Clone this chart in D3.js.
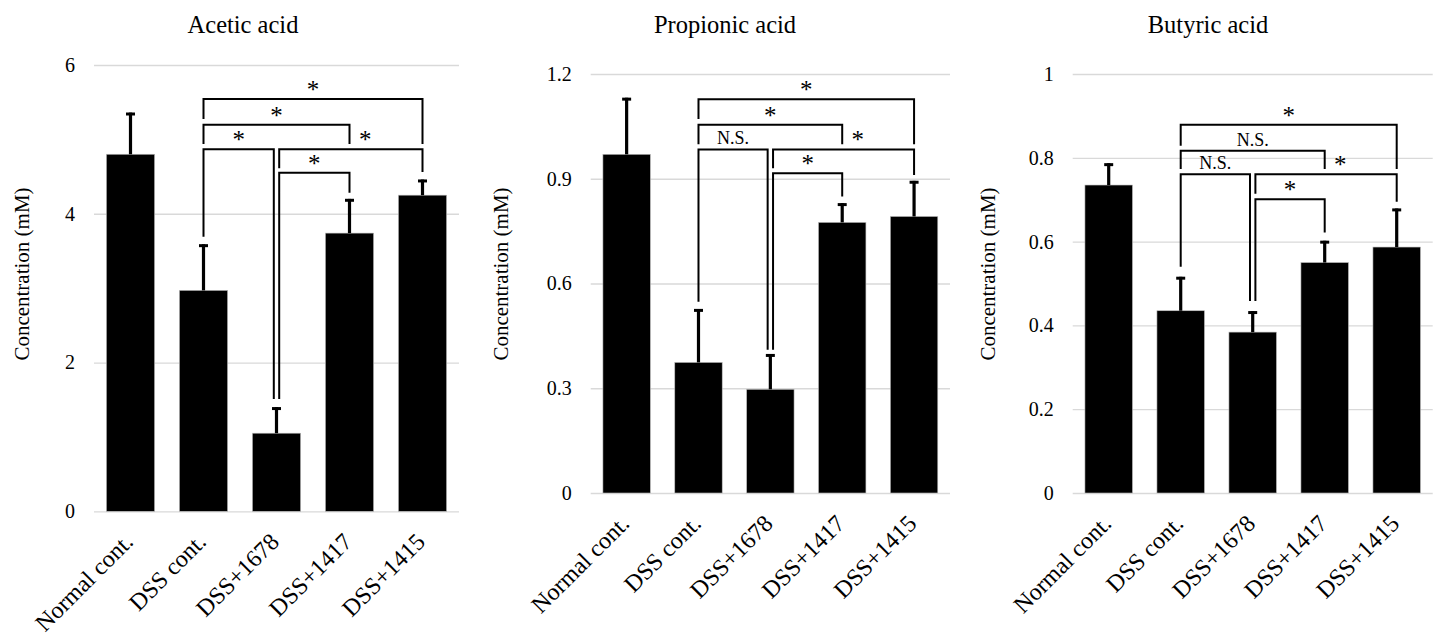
<!DOCTYPE html>
<html>
<head>
<meta charset="utf-8">
<script src="https://cdn.jsdelivr.net/npm/d3@7"></script>
<style>
  body { margin: 0; background: #fff; }
</style>
</head>
<body>
<div id="chart"></div>
<script>
const categories = ['Normal cont.', 'DSS cont.', 'DSS+1678', 'DSS+1417', 'DSS+1415']

const aceticMean = [4.80, 2.97, 1.05, 3.74, 4.25]
const aceticSd = [0.56, 0.62, 0.35, 0.46, 0.21]
const aceticTicks = [0, 2, 4, 6]

const propionicMean = [0.970, 0.374, 0.297, 0.775, 0.792]
const propionicSd = [0.162, 0.153, 0.101, 0.055, 0.102]
const propionicTicks = [0, 0.3, 0.6, 0.9, 1.2]

const butyricMean = [0.735, 0.435, 0.384, 0.550, 0.587]
const butyricSd = [0.052, 0.081, 0.050, 0.052, 0.092]
const butyricTicks = [0, 0.2, 0.4, 0.6, 0.8, 1]

// [from, to, bar height, left leg end, right leg end, label, label position]
const aceticBrackets = [
  [1, 4, 5.544, 5.275, 4.939, '*', 0.5],
  [1, 3, 5.198, 4.939, 4.939, '*', 0.5],
  [1, 2, 4.867, 3.692, 1.51, '*', 0.5],
  [2, 4, 4.867, 4.611, 4.562, '*', 0.6],
  [2, 3, 4.552, 1.51, 4.283, '*', 0.5],
]
const propionicBrackets = [
  [1, 4, 1.128, 1.071, 0.999, '*', 0.5],
  [1, 3, 1.055, 0.999, 0.999, '*', 0.5],
  [1, 2, 0.984, 0.548, 0.41, 'N.S.', 0.5],
  [2, 4, 0.984, 0.93, 0.911, '*', 0.6],
  [2, 3, 0.916, 0.41, 0.849, '*', 0.5],
]
const butyricBrackets = [
  [1, 4, 0.879, 0.829, 0.773, '*', 0.5],
  [1, 3, 0.817, 0.773, 0.773, 'N.S.', 0.5],
  [1, 2, 0.761, 0.540, 0.458, 'N.S.', 0.5],
  [2, 4, 0.761, 0.714, 0.695, '*', 0.6],
  [2, 3, 0.701, 0.458, 0.622, '*', 0.5],
]

const panels = [
  { title: 'Acetic acid', mean: aceticMean, sd: aceticSd, ticks: aceticTicks, brackets: aceticBrackets,
    x0: 94, x1: 459, y0: 511.3, y1: 65, titleX: 243, labelX: 22 },
  { title: 'Propionic acid', mean: propionicMean, sd: propionicSd, ticks: propionicTicks, brackets: propionicBrackets,
    x0: 590.7, x1: 950, y0: 493, y1: 74, titleX: 725, labelX: 501 },
  { title: 'Butyric acid', mean: butyricMean, sd: butyricSd, ticks: butyricTicks, brackets: butyricBrackets,
    x0: 1072.7, x1: 1432.7, y0: 493, y1: 74, titleX: 1208, labelX: 988 },
]

const width = 1434
const height = 633
const serif = '"Liberation Serif", "Times New Roman", serif'

const svg = d3
  .select('#chart')
  .append('svg')
  .attr('width', width)
  .attr('height', height)
  .attr('viewBox', [0, 0, width, height])
  .attr('font-family', serif)
  .style('display', 'block')

panels.forEach(p => {
  const x = d3.scaleBand().domain(categories).range([p.x0, p.x1]).paddingInner(0.34).paddingOuter(0.17)
  const y = d3.scaleLinear().domain([0, d3.max(p.ticks)]).range([p.y0, p.y1])
  const cx = i => x(categories[i]) + x.bandwidth() / 2

  const g = svg.append('g')

  // gridlines + tick labels
  g.append('g')
    .attr('transform', `translate(${p.x0},0)`)
    .call(d3.axisLeft(y).tickValues(p.ticks).tickFormat(d3.format('~g')).tickSizeInner(-(p.x1 - p.x0)).tickPadding(19))
    .attr('font-family', serif)
    .attr('font-size', 20)
    .call(g => g.select('.domain').remove())
    .call(g => g.selectAll('line').attr('stroke', '#d9d9d9').attr('stroke-width', 1.3))
    .call(g => g.selectAll('text').attr('fill', '#000'))

  g.append('text')
    .attr('x', p.titleX)
    .attr('y', 33)
    .attr('text-anchor', 'middle')
    .attr('font-size', 24.5)
    .text(p.title)

  g.append('text')
    .attr('transform', `translate(${p.labelX}, 274) rotate(-90)`)
    .attr('text-anchor', 'middle')
    .attr('dy', '0.35em')
    .attr('font-size', 21)
    .text('Concentration (mM)')

  // bars
  g.selectAll('.bar')
    .data(p.mean)
    .join('rect')
    .attr('class', 'bar')
    .attr('x', (d, i) => x(categories[i]))
    .attr('width', x.bandwidth())
    .attr('y', d => y(d))
    .attr('height', d => y(0) - y(d))
    .attr('fill', '#000')
    .attr('stroke', '#bbb')
    .attr('stroke-width', 0.6)

  // error bars
  const err = g.selectAll('.err').data(p.mean).join('g').attr('class', 'err')
  err.append('line')
    .attr('x1', (d, i) => cx(i))
    .attr('x2', (d, i) => cx(i))
    .attr('y1', d => y(d))
    .attr('y2', (d, i) => y(d + p.sd[i]))
    .attr('stroke', '#000')
    .attr('stroke-width', 3.2)
  err.append('line')
    .attr('x1', (d, i) => cx(i) - 4.5)
    .attr('x2', (d, i) => cx(i) + 4.5)
    .attr('y1', (d, i) => y(d + p.sd[i]) + 1.4)
    .attr('y2', (d, i) => y(d + p.sd[i]) + 1.4)
    .attr('stroke', '#000')
    .attr('stroke-width', 3)

  // significance brackets; legs on DSS+1678 are split to either side of its centre
  const nudge = 2.7
  p.brackets.forEach(([a, b, h, lb, rb, label, at]) => {
    const xa = cx(a) + (a === 2 ? nudge : 0)
    const xb = cx(b) - (b === 2 ? nudge : 0)
    g.append('path')
      .attr('d', `M${xa},${y(lb)}V${y(h)}H${xb}V${y(rb)}`)
      .attr('fill', 'none')
      .attr('stroke', '#000')
      .attr('stroke-width', 2)
    const star = label === '*'
    g.append('text')
      .attr('x', xa + (xb - xa) * at)
      .attr('y', y(h) - (star ? 1 : 5))
      .attr('text-anchor', 'middle')
      .attr('font-size', star ? 25 : 18)
      .text(label)
  })

  // category labels
  g.selectAll('.cat')
    .data(categories)
    .join('text')
    .attr('class', 'cat')
    .attr('transform', (d, i) => `translate(${cx(i) + 4}, ${p.y0 + 32}) rotate(-45)`)
    .attr('text-anchor', 'end')
    .attr('font-size', 24)
    .text(d => d)
})
</script>
</body>
</html>
